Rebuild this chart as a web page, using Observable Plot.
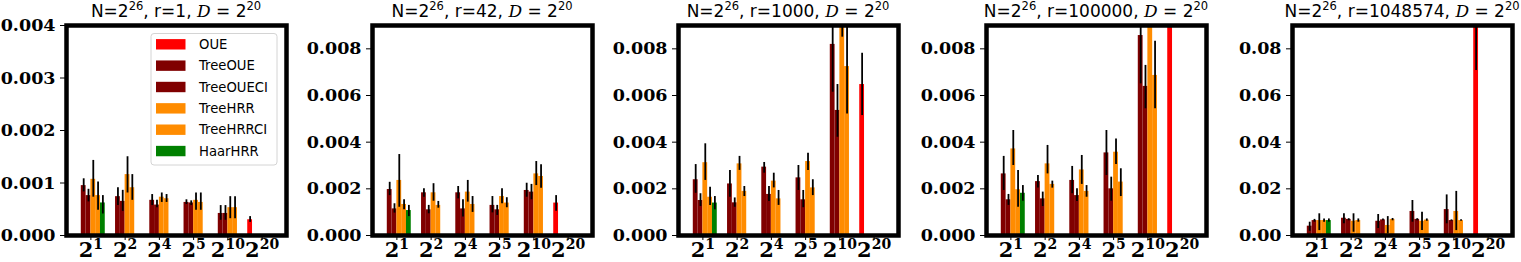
<!DOCTYPE html>
<html><head><meta charset="utf-8">
<script src="https://cdn.jsdelivr.net/npm/d3@7"></script>
<script src="https://cdn.jsdelivr.net/npm/@observablehq/plot@0.6"></script>
<style>
body{margin:0;background:#fff;}
#chart{position:relative;width:1521px;height:262px;overflow:hidden;background:#fff;}
#chart svg{position:absolute;top:0;overflow:visible;background:transparent;}
</style></head><body><div id="chart"></div>
<script>
// ---- data ----
const categories = ["2^1", "2^2", "2^4", "2^5", "2^10", "2^20"];
const seriesNames = ["OUE", "TreeOUE", "TreeOUECI", "TreeHRR", "TreeHRRCI", "HaarHRR"];
const rValues = ["1", "42", "1000", "100000", "1048574"];
const yMaxes = [0.004, 0.009, 0.009, 0.009, 0.09];
const yTickSteps = [0.001, 0.002, 0.002, 0.002, 0.02];
const yDecimals = [3, 3, 3, 3, 2];

// rows: [category, series, mean, lo, hi]
const panelR1 = [
  ["2^1","TreeOUE",0.00095,0.00083,0.00108],
  ["2^1","TreeOUECI",0.00076,0.00064,0.00088],
  ["2^1","TreeHRR",0.00107,0.00073,0.00143],
  ["2^1","TreeHRRCI",0.00076,0.00048,0.00102],
  ["2^1","HaarHRR",0.00062,0.00041,0.00076],
  ["2^2","TreeOUE",0.00074,0.00057,0.00091],
  ["2^2","TreeOUECI",0.00065,0.00046,0.00086],
  ["2^2","TreeHRR",0.00116,0.00081,0.00150],
  ["2^2","TreeHRRCI",0.00091,0.00067,0.00116],
  ["2^4","TreeOUE",0.00067,0.00057,0.00078],
  ["2^4","TreeOUECI",0.00058,0.00053,0.00067],
  ["2^4","TreeHRR",0.00073,0.00063,0.00081],
  ["2^4","TreeHRRCI",0.00070,0.00063,0.00078],
  ["2^5","TreeOUE",0.00063,0.00059,0.00068],
  ["2^5","TreeOUECI",0.00062,0.00057,0.00066],
  ["2^5","TreeHRR",0.00067,0.00048,0.00081],
  ["2^5","TreeHRRCI",0.00063,0.00048,0.00081],
  ["2^10","TreeOUE",0.00042,0.00029,0.00057],
  ["2^10","TreeOUECI",0.00042,0.00029,0.00057],
  ["2^10","TreeHRR",0.00053,0.00032,0.00074],
  ["2^10","TreeHRRCI",0.00053,0.00032,0.00074],
  ["2^20","OUE",0.00030,0.00025,0.00036]
];
const panelR42 = [
  ["2^1","TreeOUE",0.00197,0.00171,0.00228],
  ["2^1","TreeOUECI",0.00114,0.00096,0.00136],
  ["2^1","TreeHRR",0.00236,0.00121,0.00347],
  ["2^1","TreeHRRCI",0.00133,0.00110,0.00153],
  ["2^1","HaarHRR",0.00107,0.00081,0.00129],
  ["2^2","TreeOUE",0.00183,0.00164,0.00200],
  ["2^2","TreeOUECI",0.00110,0.00093,0.00129],
  ["2^2","TreeHRR",0.00183,0.00147,0.00222],
  ["2^2","TreeHRRCI",0.00129,0.00117,0.00146],
  ["2^4","TreeOUE",0.00183,0.00157,0.00210],
  ["2^4","TreeOUECI",0.00114,0.00079,0.00153],
  ["2^4","TreeHRR",0.00186,0.00143,0.00236],
  ["2^4","TreeHRRCI",0.00133,0.00099,0.00167],
  ["2^5","TreeOUE",0.00129,0.00097,0.00167],
  ["2^5","TreeOUECI",0.00110,0.00086,0.00129],
  ["2^5","TreeHRR",0.00167,0.00136,0.00200],
  ["2^5","TreeHRRCI",0.00139,0.00119,0.00162],
  ["2^10","TreeOUE",0.00193,0.00164,0.00224],
  ["2^10","TreeOUECI",0.00186,0.00153,0.00219],
  ["2^10","TreeHRR",0.00264,0.00214,0.00317],
  ["2^10","TreeHRRCI",0.00253,0.00203,0.00303],
  ["2^20","OUE",0.00139,0.00104,0.00171]
];
const panelR1000 = [
  ["2^1","TreeOUE",0.00239,0.00181,0.00304],
  ["2^1","TreeOUECI",0.00150,0.00124,0.00179],
  ["2^1","TreeHRR",0.00312,0.00236,0.00393],
  ["2^1","TreeHRRCI",0.00164,0.00129,0.00207],
  ["2^1","HaarHRR",0.00139,0.00110,0.00167],
  ["2^2","TreeOUE",0.00221,0.00164,0.00279],
  ["2^2","TreeOUECI",0.00140,0.00121,0.00161],
  ["2^2","TreeHRR",0.00307,0.00279,0.00339],
  ["2^2","TreeHRRCI",0.00189,0.00167,0.00210],
  ["2^4","TreeOUE",0.00293,0.00267,0.00313],
  ["2^4","TreeOUECI",0.00176,0.00146,0.00210],
  ["2^4","TreeHRR",0.00233,0.00204,0.00267],
  ["2^4","TreeHRRCI",0.00157,0.00129,0.00193],
  ["2^5","TreeOUE",0.00247,0.00193,0.00300],
  ["2^5","TreeOUECI",0.00153,0.00119,0.00193],
  ["2^5","TreeHRR",0.00317,0.00279,0.00353],
  ["2^5","TreeHRRCI",0.00204,0.00171,0.00239],
  ["2^10","TreeOUE",0.00819,0.00614,0.01020],
  ["2^10","TreeOUECI",0.00536,0.00421,0.00647],
  ["2^10","TreeHRR",0.00960,0.00850,0.01070],
  ["2^10","TreeHRRCI",0.00724,0.00521,0.00930],
  ["2^20","OUE",0.00647,0.00514,0.00781]
];
const panelR100000 = [
  ["2^1","TreeOUE",0.00264,0.00193,0.00339],
  ["2^1","TreeOUECI",0.00153,0.00129,0.00176],
  ["2^1","TreeHRR",0.00371,0.00300,0.00450],
  ["2^1","TreeHRRCI",0.00196,0.00121,0.00279],
  ["2^1","HaarHRR",0.00181,0.00147,0.00214],
  ["2^2","TreeOUE",0.00231,0.00204,0.00257],
  ["2^2","TreeOUECI",0.00157,0.00124,0.00186],
  ["2^2","TreeHRR",0.00307,0.00264,0.00386],
  ["2^2","TreeHRRCI",0.00219,0.00203,0.00233],
  ["2^4","TreeOUE",0.00236,0.00179,0.00296],
  ["2^4","TreeOUECI",0.00171,0.00146,0.00200],
  ["2^4","TreeHRR",0.00281,0.00219,0.00343],
  ["2^4","TreeHRRCI",0.00189,0.00164,0.00214],
  ["2^5","TreeOUE",0.00354,0.00257,0.00450],
  ["2^5","TreeOUECI",0.00200,0.00147,0.00250],
  ["2^5","TreeHRR",0.00357,0.00304,0.00414],
  ["2^5","TreeHRRCI",0.00229,0.00167,0.00286],
  ["2^10","TreeOUE",0.00857,0.00650,0.01060],
  ["2^10","TreeOUECI",0.00639,0.00543,0.00729],
  ["2^10","TreeHRR",0.01100,0.00950,0.01250],
  ["2^10","TreeHRRCI",0.00686,0.00543,0.00833],
  ["2^20","OUE",0.02000,0.01500,0.02500]
];
const panelR1048574 = [
  ["2^1","TreeOUE",0.0040,0.0018,0.0057],
  ["2^1","TreeOUECI",0.0064,0.0057,0.0069],
  ["2^1","TreeHRR",0.0064,0.0021,0.0093],
  ["2^1","TreeHRRCI",0.0064,0.0057,0.0071],
  ["2^1","HaarHRR",0.0064,0.0057,0.0071],
  ["2^2","TreeOUE",0.0074,0.0050,0.0093],
  ["2^2","TreeOUECI",0.0069,0.0063,0.0072],
  ["2^2","TreeHRR",0.0061,0.0014,0.0093],
  ["2^2","TreeHRRCI",0.0064,0.0057,0.0071],
  ["2^4","TreeOUE",0.0061,0.0030,0.0090],
  ["2^4","TreeOUECI",0.0067,0.0063,0.0071],
  ["2^4","TreeHRR",0.0043,0.0007,0.0081],
  ["2^4","TreeHRRCI",0.0069,0.0063,0.0073],
  ["2^5","TreeOUE",0.0103,0.0057,0.0150],
  ["2^5","TreeOUECI",0.0069,0.0063,0.0072],
  ["2^5","TreeHRR",0.0061,0.0021,0.0100],
  ["2^5","TreeHRRCI",0.0066,0.0061,0.0071],
  ["2^10","TreeOUE",0.0111,0.0050,0.0174],
  ["2^10","TreeOUECI",0.0064,0.0061,0.0067],
  ["2^10","TreeHRR",0.0103,0.0021,0.0189],
  ["2^10","TreeHRRCI",0.0064,0.0061,0.0067],
  ["2^20","OUE",0.1000,0.0707,0.1300]
];
const panels = [panelR1, panelR42, panelR1000, panelR100000, panelR1048574];

// ---- styling / layout ----
const seriesColors = ["#ff0000", "#800000", "#800000", "#ff8c00", "#ff8c00", "#008000"];
const barW = 0.14;
const ML = 66, MR = 8, MT = 25, MB = 27, innerW = 220;
const panelLefts = [0, 306, 612, 920, 1226];

const chart = document.getElementById("chart");

panels.forEach((raw, p) => {
  const rows = raw.map(([c, s, v, lo, hi]) => ({c, s, v, lo, hi,
    ci: categories.indexOf(c), si: seriesNames.indexOf(s)}));
  const yMax = yMaxes[p], step = yTickSteps[p];
  const yTicks = d3.range(0, yMax + step / 2, step);
  const plot = Plot.plot({
    width: ML + innerW + MR, height: 262,
    marginLeft: ML, marginRight: MR, marginTop: MT, marginBottom: MB,
    style: {background: "transparent", color: "black"},
    x: {domain: [-0.712, 5.712], ticks: categories.map((c, i) => i),
        tickFormat: i => categories[i], tickSize: 5, tickPadding: 2, label: null},
    y: {domain: [0, yMax], ticks: yTicks, tickFormat: d3.format(`.${yDecimals[p]}f`),
        tickSize: 6, tickPadding: 5, label: null},
    color: {domain: seriesNames, range: seriesColors},
    marks: [
      Plot.rect(rows, {
        x1: d => d.ci + (d.si - 3) * barW,
        x2: d => d.ci + (d.si - 2) * barW,
        y1: 0, y2: "v", fill: "s", clip: true
      }),
      Plot.ruleX(rows, {
        x: d => d.ci + (d.si - 2.5) * barW,
        y1: "lo", y2: "hi", stroke: "black", strokeWidth: 1.8, clip: true
      }),
      Plot.frame({stroke: "black", strokeWidth: 4.5})
    ]
  });
  plot.style.left = panelLefts[p] + "px";
  const svg = d3.select(plot);
  svg.selectAll('g[aria-label^="y-axis"] text')
    .style("font-family", "'DejaVu Serif', serif")
    .style("font-weight", "bold")
    .style("font-size", "17.5px");
  svg.selectAll('g[aria-label^="x-axis"] text').each(function() {
    const t = d3.select(this);
    const [b, e] = t.text().split("^");
    t.text(null)
      .style("font-family", "'DejaVu Serif', serif")
      .style("font-weight", "bold")
      .style("font-size", "21px");
    t.append("tspan").text(b);
    t.append("tspan").attr("dy", "-8").style("font-size", "14px").text(e);
  });
  const title = svg.append("text")
    .attr("x", ML + innerW / 2).attr("y", 17)
    .attr("text-anchor", "middle").attr("fill", "black")
    .style("font-family", "'DejaVu Sans', sans-serif")
    .style("font-size", "17px").style("white-space", "pre");
  title.append("tspan").text("N=2");
  title.append("tspan").attr("dy", "-7").style("font-size", "11.5px").text("26");
  title.append("tspan").attr("dy", "7").text(`, r=${rValues[p]}, `);
  title.append("tspan").style("font-family", "'DejaVu Serif', serif").style("font-style", "italic").text("D");
  title.append("tspan").text(" = 2");
  title.append("tspan").attr("dy", "-7").style("font-size", "11.5px").text("20");

  if (p === 0) {
    // legend inside the first panel
    const lg = svg.append("g").attr("aria-label", "legend");
    lg.append("rect").attr("x", 151).attr("y", 33.5).attr("width", 126).attr("height", 131.5)
      .attr("rx", 3).attr("fill", "white").attr("fill-opacity", 0.8)
      .attr("stroke", "#d4d4d4").attr("stroke-width", 1);
    seriesNames.forEach((s, i) => {
      const cy = 44.3 + i * 21.35;
      lg.append("rect").attr("x", 156).attr("y", cy - 5.2).attr("width", 29.5).attr("height", 10.4)
        .attr("fill", seriesColors[i]);
      lg.append("text").attr("x", 199).attr("y", cy).attr("dy", "0.35em")
        .attr("text-anchor", "start").attr("fill", "black")
        .style("font-family", "'DejaVu Sans', sans-serif").style("font-size", "13.2px")
        .text(s);
    });
  }
  chart.appendChild(plot);
});
</script></body></html>
